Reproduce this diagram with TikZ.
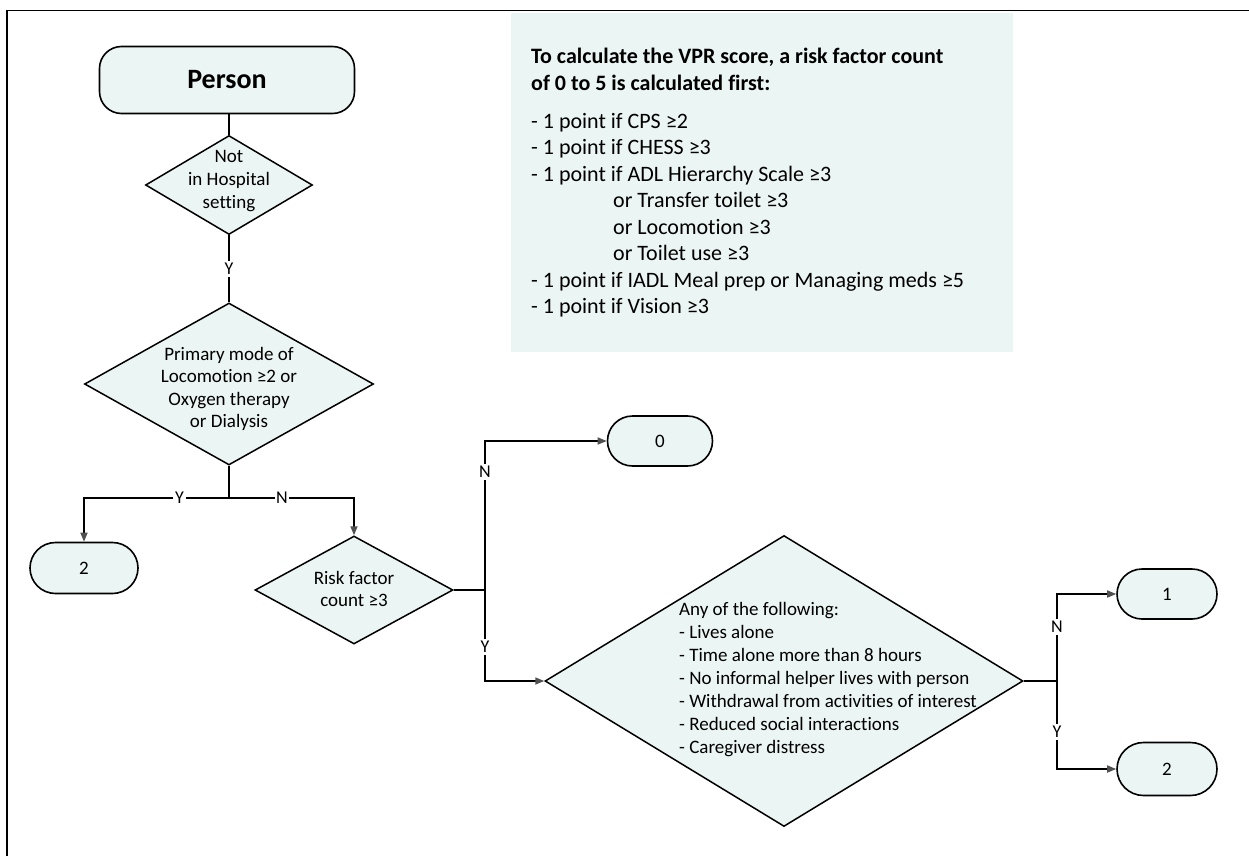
\documentclass[tikz,border=0pt]{standalone}
\usepackage{fontspec}
\setmainfont{Carlito}[Ligatures={NoCommon}]
\usetikzlibrary{shapes.geometric,shapes.misc,arrows.meta}
\definecolor{mint}{RGB}{235,245,243}
\definecolor{tipgray}{RGB}{80,80,80}
\begin{document}
\begin{tikzpicture}[x=1pt,y=-1pt,
  terminal/.style={rounded rectangle, draw=black, line width=1.6pt, fill=mint,
    inner sep=0pt, font=\fontsize{19}{22}\selectfont},
  decision/.style={diamond, draw=black, line width=1.5pt, fill=mint, inner sep=0pt},
  dtext/.style={align=center, inner sep=0pt, font=\fontsize{19}{22.6}\selectfont},
  conn/.style={draw=black, line width=1.6pt},
  arr/.style={conn, -{Triangle[length=9pt,width=7pt,color=tipgray]}},
  lbl/.style={fill=white, inner sep=2pt, font=\fontsize{18}{20}\selectfont}]

\useasboundingbox (0,0) rectangle (1249,856);
% page frame (top and left edges)
\draw[line width=1.4pt] (7,856) -- (7,10.5) -- (1249,10.5);

% scoring note
\node[fill=mint, minimum width=502pt, minimum height=339pt, anchor=north west, inner sep=0pt] (info) at (511,13) {};
\node[anchor=north west, align=left, inner sep=0pt, font=\fontsize{22}{26.5}\selectfont] (infotext) at (531,48)
  {\textbf{To calculate the VPR score, a risk factor count}\\[0.5pt]
   \textbf{of 0 to 5 is calculated first:}\\[11pt]
   - 1 point if CPS ≥2\\
   - 1 point if CHESS ≥3\\
   - 1 point if ADL Hierarchy Scale ≥3\\
   \hspace*{82pt}or Transfer toilet ≥3\\
   \hspace*{82pt}or Locomotion ≥3\\
   \hspace*{82pt}or Toilet use ≥3\\
   - 1 point if IADL Meal prep or Managing meds ≥5\\
   - 1 point if Vision ≥3};

% start
\node[draw=black, line width=1.6pt, fill=mint, rounded corners=22pt, minimum width=255pt,
  minimum height=67pt, inner sep=0pt, font=\fontsize{28}{32}\selectfont\bfseries] (person) at (227,80) {Person};

% decisions
\node[decision, minimum width=167pt, minimum height=99pt] (hosp) at (229,185) {};
\node[dtext] (hosptext) at (229,181) {Not\\in Hospital\\setting};

\node[decision, minimum width=289pt, minimum height=162pt] (mob) at (229,384) {};
\node[dtext] (mobtext) at (229,389) {Primary mode of\\Locomotion ≥2 or\\Oxygen therapy\\or Dialysis};

\node[decision, minimum width=198pt, minimum height=108pt] (risk) at (354,590) {};
\node[dtext] (risktext) at (354,589) {Risk factor\\count ≥3};

\node[decision, minimum width=478pt, minimum height=291pt] (social) at (784,681) {};
\node[anchor=north west, align=left, inner sep=0pt, font=\fontsize{19}{23}\selectfont] (socialtext) at (679,602)
  {Any of the following:\\
   - Lives alone\\
   - Time alone more than 8 hours\\
   - No informal helper lives with person\\
   - Withdrawal from activities of interest\\
   - Reduced social interactions\\
   - Caregiver distress};

% outcomes
\node[terminal, minimum width=108pt, minimum height=51pt] (outA) at (84,568) {2};
\node[terminal, minimum width=105pt, minimum height=50pt] (outZero) at (660,441) {0};
\node[terminal, minimum width=100pt, minimum height=50pt] (outOne) at (1167,594) {1};
\node[terminal, minimum width=100pt, minimum height=53pt] (outB) at (1167,769) {2};

% junctions
\coordinate (j1) at (229,498);
\coordinate (j2) at (485,590);
\coordinate (j3) at (1057,681);

% connectors
\draw[conn] (hosp.north |- person.south) -- (hosp.north);
\draw[conn] (hosp.south) -- node[lbl] {Y} (mob.north);
\draw[conn] (mob.south) -- (j1);
\draw[arr] (j1) -| node[lbl, pos=0.171] {Y} (outA.north);
\draw[arr] (j1) -| node[lbl, pos=0.212, inner sep=1pt] {N} (risk.north);
\draw[conn] (risk.east) -- (j2);
\draw[arr] (j2) |- node[lbl, pos=0.396] {N} (outZero.west);
\draw[arr] (j2) |- node[lbl, pos=0.313] {Y} (social.west);
\draw[conn] (social.east) -- (j3);
\draw[arr] (j3) |- node[lbl, pos=0.31] {N} (outOne.west);
\draw[arr] (j3) |- node[lbl, pos=0.29] {Y} (outB.west);
\end{tikzpicture}
\end{document}
